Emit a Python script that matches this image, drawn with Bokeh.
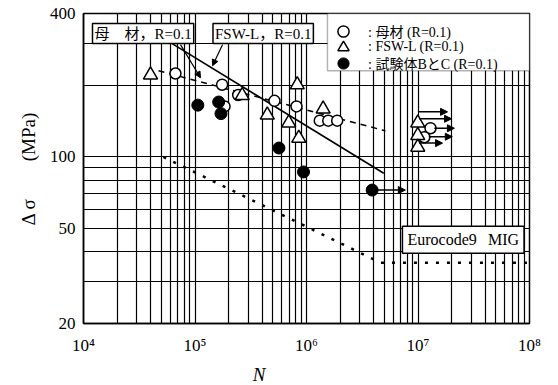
from bokeh.plotting import figure
from bokeh.models import (Range1d, FixedTicker, Label, Arrow, NormalHead,
                          Legend, LegendItem, BoxAnnotation)
from bokeh.embed import file_html
from bokeh.resources import INLINE

# ---------------- data ----------------
base_N = [6.68e4, 1.75e5, 1.84e5, 2.44e5, 5.16e5, 8.13e5, 1.315e6, 1.567e6, 1.885e6, 1.295e7, 1.14e7]
base_S = [224, 201, 163, 182, 172, 163, 142, 142, 142, 132, 121]

fsw_N = [3.99e4, 2.65e5, 4.45e5, 6.93e5, 8.26e5, 8.53e5, 1.41e6, 9.95e6, 9.95e6, 9.95e6]
fsw_S = [221, 181, 150, 139, 201, 120, 159, 139, 123, 110]

bc_N = [1.06e5, 1.63e5, 1.71e5, 5.66e5, 9.4e5, 3.88e6]
bc_S = [165, 170, 152, 109, 86.5, 72.6]

runout_S = [154.6, 144.6, 132, 121.6, 114.3, 72.6]
runout_N0 = [1.0e7, 1.02e7, 1.4e7, 1.25e7, 1.02e7, 4.3e6]
runout_N1 = [1.84e7, 2.0e7, 2.12e7, 2.03e7, 1.66e7, 7.7e6]

fit_base_N = [4.71e4, 5.1e6]
fit_base_S = [230, 128.7]
fit_fsw_N = [6.03e4, 4.93e6]
fit_fsw_S = [302, 85.4]
ec9_N = [5.2e4, 4.6e6, 1e8]
ec9_S = [100, 36, 36]

x_ticks = [1e4, 1e5, 1e6, 1e7, 1e8]
x_tick_labels = ["10\u2074", "10\u2075", "10\u2076", "10\u2077", "10\u2078"]
y_ticks = [20, 50, 100, 400]
y_tick_labels = ["20", "50", "100", "400"]
x_grid = [m * 10 ** k for k in range(4, 8) for m in range(1, 10)] + [1e8]
y_grid = [20, 30, 40, 50, 60, 70, 80, 90, 100, 200, 300, 400]

legend_labels = [": 母材 (R=0.1)", ": FSW-L (R=0.1)", ": 試験体BとC (R=0.1)"]

SERIF = "Liberation Serif"
JP = "Liberation Serif, Noto Sans CJK JP"
EM = "\u2003"

p = figure(width=558, height=385, x_axis_type="log", y_axis_type="log",
           x_range=Range1d(1e4, 1e8), y_range=Range1d(20, 400),
           output_backend="svg", toolbar_location=None,
           min_border_left=83, min_border_right=29, min_border_top=13, min_border_bottom=62)
p.frame_width = 446
p.frame_height = 310
p.background_fill_color = "white"
p.border_fill_color = "white"
p.outline_line_color = "black"
p.outline_line_width = 1.5

for ax, ticks, labels in ((p.xaxis[0], x_ticks, x_tick_labels), (p.yaxis[0], y_ticks, y_tick_labels)):
    ax.ticker = FixedTicker(ticks=ticks)
    ax.major_label_overrides = {t: l for t, l in zip(ticks, labels)}
    ax.major_tick_in = 0
    ax.major_tick_out = 0
    ax.minor_tick_in = 0
    ax.minor_tick_out = 0
    ax.axis_line_color = "black"
    ax.axis_line_width = 1.5
    ax.major_label_text_font = SERIF
    ax.major_label_text_font_size = "17px"
    ax.major_label_text_color = "black"
    ax.axis_label_text_font = SERIF
    ax.axis_label_text_color = "black"
p.xaxis.major_label_standoff = 12
p.yaxis.major_label_standoff = 8

p.xaxis.axis_label = "N" + EM * 5
p.xaxis.axis_label_text_font_style = "italic"
p.xaxis.axis_label_text_font_size = "19px"
p.xaxis.axis_label_standoff = 6

p.yaxis.axis_label = "Δ σ" + EM * 2 + "(MPa)"
p.yaxis.axis_label_text_font_style = "normal"
p.yaxis.axis_label_text_font_size = "19px"
p.yaxis.axis_label_standoff = 8

p.xgrid.ticker = FixedTicker(ticks=x_grid)
p.ygrid.ticker = FixedTicker(ticks=y_grid)
for g in (p.xgrid[0], p.ygrid[0]):
    g.grid_line_color = "black"
    g.grid_line_alpha = 1.0
    g.grid_line_width = 1.2

# lines
p.line(ec9_N, ec9_S, line_color="black", line_width=2.5, line_dash="3 8")
p.line(fit_base_N, fit_base_S, line_color="black", line_width=1.5, line_dash="6 5")
p.line(fit_fsw_N, fit_fsw_S, line_color="black", line_width=1.6)

# runout arrows
for s, n0, n1 in zip(runout_S, runout_N0, runout_N1):
    p.add_layout(Arrow(x_start=n0, y_start=s, x_end=n1, y_end=s, line_width=1.5,
                       line_color="black",
                       end=NormalHead(size=7, fill_color="black", line_color="black")))

# markers
r_base = p.scatter(base_N, base_S, marker="circle", size=11, fill_color="white",
                   line_color="black", line_width=1.5)
r_fsw = p.scatter(fsw_N, fsw_S, marker="triangle", size=14, fill_color="white",
                  line_color="black", line_width=1.5)
r_bc = p.scatter(bc_N, bc_S, marker="circle", size=12, fill_color="black",
                 line_color="black")

# leader arrows of the fit labels
p.add_layout(Arrow(x_start=7.41e4, y_start=296, x_end=1.12e5, y_end=215, line_width=1.2,
                   end=NormalHead(size=6, fill_color="black")))
p.add_layout(Arrow(x_start=1.765e5, y_start=296, x_end=1.436e5, y_end=241.6, line_width=1.2,
                   end=NormalHead(size=6, fill_color="black")))

box_style = dict(border_line_color="black", border_line_width=1.5,
                 background_fill_color="white", background_fill_alpha=1.0,
                 text_color="black", text_baseline="middle", text_align="left")
p.add_layout(Label(x=1.204e4, y=329.6, text="母　材，R=0.1", text_font=JP,
                   text_font_size="15px", padding=2, **box_style))
p.add_layout(Label(x=1.45e5, y=329.6, text="FSW-L，R=0.1", text_font=JP,
                   text_font_size="15px", padding=2, **box_style))
p.add_layout(Label(x=7.25e6, y=44.9, text="Eurocode9\u2002\u2009MIG", text_font=SERIF,
                   text_font_size="16px", padding=5, **box_style))

# legend: framed box + one single-row legend per series (keeps symbols full size)
p.add_layout(BoxAnnotation(left=1.542e6, right=1e8, bottom=230, top=400,
                           fill_color="white", fill_alpha=1.0,
                           line_color="black", line_width=1.5))
for i, (lab, r) in enumerate(zip(legend_labels, [r_base, r_fsw, r_bc])):
    lg = Legend(items=[LegendItem(label=lab, renderers=[r])],
                location=(246, 278 - 16 * i), margin=0, padding=0, spacing=0,
                glyph_width=28, glyph_height=28, label_height=14, label_standoff=11,
                label_text_font=JP, label_text_font_size="14px",
                label_text_color="black",
                border_line_alpha=0.0, background_fill_alpha=0.0)
    p.add_layout(lg)

open("out.html", "w").write(file_html(p, INLINE))
